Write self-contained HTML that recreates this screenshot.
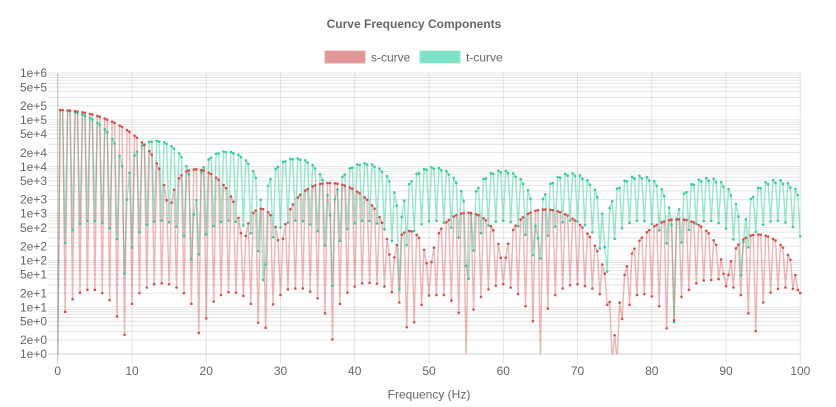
<!DOCTYPE html>
<html>
<head>
<meta charset="utf-8">
<style>
  html,body{margin:0;padding:0;background:#fff;}
  body{width:836px;height:407px;overflow:hidden;}
  svg{display:block;overflow:hidden;}
  text{font-family:"Liberation Sans", Arial, sans-serif;fill:#666;}
</style>
</head>
<body>
<svg id="chart" width="836" height="407" viewBox="0 0 836 407" xmlns="http://www.w3.org/2000/svg">
  <defs>
    <clipPath id="area"><rect x="57.7" y="72" width="742.6" height="282.5"/></clipPath>
  </defs>
  <rect x="0" y="0" width="836" height="407" fill="#fff"/>
  <g id="grid"></g>
  <!-- Title -->
  <text x="414" y="28" font-size="12" font-weight="bold" text-anchor="middle">Curve Frequency Components</text>
  <!-- Legend -->
  <rect x="325" y="51" width="40" height="12" fill="rgb(226,151,151)" stroke="rgb(232,165,165)" stroke-width="1"/>
  <text x="371" y="61.5" font-size="12">s-curve</text>
  <rect x="420" y="51" width="40" height="12" fill="rgb(125,226,200)" stroke="rgb(150,232,210)" stroke-width="1"/>
  <text x="466" y="61.5" font-size="12">t-curve</text>
  <!-- Y labels -->
  <g font-size="12" text-anchor="end">
    <text x="47" y="77.2">1e+6</text>
    <text x="47" y="91.3">5e+5</text>
    <text x="47" y="110">2e+5</text>
    <text x="47" y="124">1e+5</text>
    <text x="47" y="138.2">5e+4</text>
    <text x="47" y="156.8">2e+4</text>
    <text x="47" y="170.9">1e+4</text>
    <text x="47" y="185">5e+3</text>
    <text x="47" y="203.6">2e+3</text>
    <text x="47" y="217.7">1e+3</text>
    <text x="47" y="231.8">5e+2</text>
    <text x="47" y="250.4">2e+2</text>
    <text x="47" y="264.5">1e+2</text>
    <text x="47" y="278.6">5e+1</text>
    <text x="47" y="297.3">2e+1</text>
    <text x="47" y="311.4">1e+1</text>
    <text x="47" y="325.5">5e+0</text>
    <text x="47" y="344.1">2e+0</text>
    <text x="47" y="358.2">1e+0</text>
  </g>
  <!-- X labels -->
  <g font-size="12" text-anchor="middle">
    <text x="57.7" y="375">0</text>
    <text x="132" y="375">10</text>
    <text x="206.2" y="375">20</text>
    <text x="280.5" y="375">30</text>
    <text x="354.7" y="375">40</text>
    <text x="429" y="375">50</text>
    <text x="503.3" y="375">60</text>
    <text x="577.5" y="375">70</text>
    <text x="651.8" y="375">80</text>
    <text x="726" y="375">90</text>
    <text x="800.3" y="375">100</text>
  </g>
  <text x="429" y="398.5" font-size="12" text-anchor="middle">Frequency (Hz)</text>
  <g id="series" clip-path="url(#area)"></g>
  <g id="pts"></g>
</svg>
<script>
(function(){
  var NS="http://www.w3.org/2000/svg";
  var X0=57.7, XS=7.426, YB=354, YS=46.83;
  function X(f){return X0+XS*f;}
  function Yl(L){return YB-YS*L;}
  function Y(v){return v<=0?360:Math.min(360,Yl(Math.log10(v)));}
  function el(tag,attrs,parent){var e=document.createElementNS(NS,tag);for(var k in attrs)e.setAttribute(k,attrs[k]);parent.appendChild(e);return e;}
  var grid=document.getElementById('grid');
  for(var e=0;e<=5;e++){
    for(var m=1;m<=9;m++){
      var y=Yl(e+Math.log10(m));
      var col=(e===0&&m===1)?'rgba(0,0,0,0.18)':'rgba(0,0,0,0.1)';
      el('line',{x1:48,x2:800.3,y1:y,y2:y,stroke:col,'stroke-width':1},grid);
    }
  }
  el('line',{x1:48,x2:800.3,y1:73,y2:73,stroke:'rgba(0,0,0,0.1)','stroke-width':1},grid);
  for(var i=0;i<=10;i++){
    var x=X(i*10);
    var col=i===0?'rgba(0,0,0,0.25)':'rgba(0,0,0,0.1)';
    el('line',{x1:x,x2:x,y1:73,y2:364,stroke:col,'stroke-width':1},grid);
  }
  function sinc(x){if(Math.abs(x)<1e-12)return 1;return Math.sin(Math.PI*x)/(Math.PI*x);}
  var C=1.87e5;
  var redLow=[null,0.9,1.17,1.31,1.37,1.37,1.3,1.15,0.8,0.41,1.07,1.3,1.42,1.49,1.51,1.49,1.42,1.3,1.07,0.45,0.76,
    1.12,1.26,1.32,1.31,1.24,1.07,0.67,0.56,1.06,1.26,1.38,1.4,1.4,1.33,1.19,0.87,0.31,1.07,1.31,1.44,
    1.51,1.52,1.5,1.44,1.32,1.1,0.57,0.68,1.05,1.25,1.26,1.26,1.14,0.88,-0.6,0.95,1.22,1.38,1.46,1.49,
    1.42,1.28,1.02,0.7,-0.6,0.97,1.26,1.4,1.47,1.49,1.45,1.4,1.28,1.05,0.4,0.75,1.05,1.26,1.28,1.23,
    1.02,0.55,0.72,1.22,1.37,1.51,1.57,1.58,1.6,1.45,1.42,1.26,0.87,0.49,1.1,1.31,1.39,1.42,1.39,1.3];
  var red=[],teal=[];
  for(var k=0;k<=300;k++){
    var f=k/3;
    var tv=C*Math.abs(sinc(f/9.22))*Math.abs(Math.sin(Math.PI*f*(1+4.09e-4)));
    var rv;
    if(k===0) rv=0;
    else if(k===224||k===226) rv=0.3;
    else if(k%3===0) rv=Math.pow(10,redLow[k/3]);
    else rv=C*Math.abs(sinc(f/15))*Math.abs(sinc(f/25))*Math.abs(Math.sin(Math.PI*f));
    teal.push([X(f),Y(tv)]);
    red.push([X(f),Y(rv)]);
  }
  var ser=document.getElementById('series');
  var pts=document.getElementById('pts');
  function draw(data,lineCol){
    el('polyline',{points:data.map(function(p){return p[0].toFixed(2)+','+p[1].toFixed(2);}).join(' '),
      fill:'none',stroke:lineCol,'stroke-width':1.4,'stroke-linejoin':'round'},ser);
  }
  function drawPts(data,ptCol){
    data.forEach(function(p){
      if(p[1]<=354.5&&p[1]>=72) el('circle',{cx:p[0].toFixed(2),cy:p[1].toFixed(2),r:1.3,fill:ptCol},pts);
    });
  }
  draw(teal,'rgba(62,214,168,0.55)');
  draw(red,'rgba(222,92,92,0.45)');
  drawPts(teal,'rgb(52,206,158)');
  drawPts(red,'rgb(214,78,78)');
})();
</script>
</body>
</html>
